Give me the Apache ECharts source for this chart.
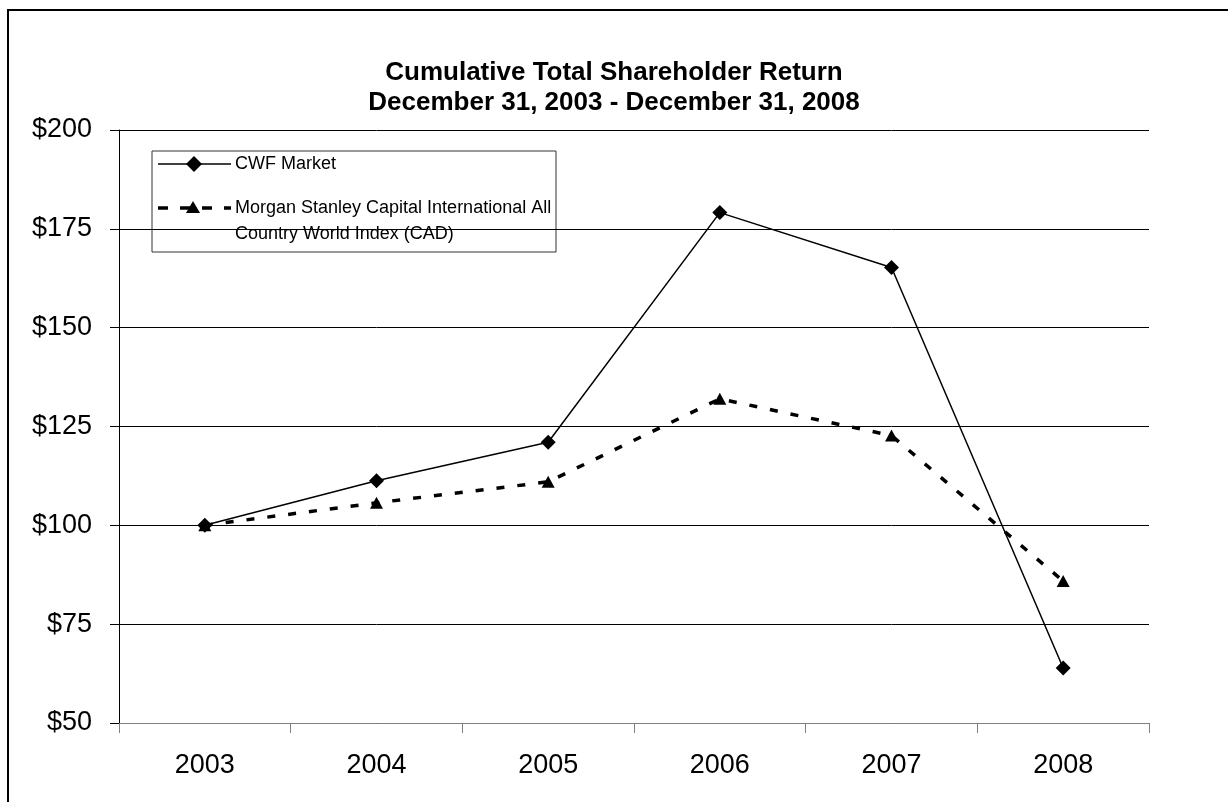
<!DOCTYPE html>
<html>
<head>
<meta charset="utf-8">
<title>Cumulative Total Shareholder Return</title>
<script src="https://cdn.jsdelivr.net/npm/echarts@6/dist/echarts.min.js"></script>
<style>
	html, body { margin: 0; padding: 0; background: #fff; }
	#main { width: 1228px; height: 802px; }
</style>
</head>
<body>
<div id="main"></div>
<script>
	// 数据
	var years = ['2003', '2004', '2005', '2006', '2007', '2008'];
	var cwfMarket = [100, 111.3, 121, 179.1, 165.2, 63.9];
	var msciAcwi = [100, 105.7, 111, 132, 122.7, 85.9];
	var yTicks = [50, 75, 100, 125, 150, 175, 200];

	var seriesNames = ['CWF Market', 'Morgan Stanley Capital International All\nCountry World Index (CAD)'];
	var titleLines = ['Cumulative Total Shareholder Return', 'December 31, 2003 - December 31, 2008'];

	var font = '"Liberation Sans", Arial, sans-serif';
	var diamond = 'path://M0,-1L1,0L0,1L-1,0Z';

	var chart = echarts.init(document.getElementById('main'));

	//图例框（手工画，原图文字被边框截断）
	var legendX = 152, legendY = 151, legendW = 404, legendH = 101;

	var option = {
		backgroundColor: '#fff',
		animation: false,
		title: {
			text: titleLines.join('\n'),
			left: 'center',
			top: 53,
			textStyle: {
				fontFamily: font,
				fontSize: 26,
				fontWeight: 'bold',
				color: '#000',
				lineHeight: 30
			}
		},
		grid: {
			left: 119,
			right: 79,
			top: 130,
			bottom: 79
		},
		xAxis: {
			type: 'category',
			data: years,
			boundaryGap: true,
			axisLine: { lineStyle: { color: '#808080', width: 1 } },
			axisTick: { show: true, length: 10, lineStyle: { color: '#808080' } },
			axisLabel: { margin: 29, fontFamily: font, fontSize: 27, color: '#000' },
			splitLine: { show: false }
		},
		yAxis: {
			type: 'value',
			min: yTicks[0],
			max: yTicks[yTicks.length - 1],
			interval: 25,
			axisLine: { show: true, lineStyle: { color: '#000', width: 1 } },
			axisTick: { show: true, length: 9, lineStyle: { color: '#000' } },
			axisLabel: {
				margin: 27,
				fontFamily: font,
				fontSize: 27,
				color: '#000',
				formatter: function(v) {
					return '$' + v;
				}
			},
			splitLine: { show: true, lineStyle: { color: '#000', width: 1 } }
		},
		series: [{
			name: seriesNames[0],
			type: 'line',
			data: cwfMarket,
			symbol: diamond,
			symbolSize: 15,
			itemStyle: { color: '#000' },
			lineStyle: { color: '#000', width: 1.5 },
			z: 3
		}, {
			name: seriesNames[1],
			type: 'line',
			data: msciAcwi,
			symbol: 'triangle',
			symbolSize: [13, 12],
			itemStyle: { color: '#000' },
			lineStyle: { color: '#000', width: 3.5, type: [8, 13] },
			z: 2
		}],
		graphic: [{
			// 外框
			type: 'rect',
			shape: { x: 8, y: 10, width: 1400, height: 1000 },
			style: { fill: 'none', stroke: '#000', lineWidth: 2 },
			silent: true
		}, {
			type: 'group',
			x: legendX,
			y: legendY,
			children: [{
				type: 'rect',
				shape: { x: 0, y: 0, width: legendW, height: legendH },
				style: { fill: '#fff', stroke: '#333', lineWidth: 1 }
			}, {
				type: 'line',
				shape: { x1: 6, y1: 13, x2: 79, y2: 13 },
				style: { stroke: '#000', lineWidth: 1.5 }
			}, {
				type: 'polygon',
				shape: { points: [[42, 5], [50, 13], [42, 21], [34, 13]] },
				style: { fill: '#000' }
			}, {
				type: 'text',
				x: 83,
				y: 13,
				style: {
					text: seriesNames[0],
					fontFamily: font,
					fontSize: 18,
					fill: '#000',
					verticalAlign: 'middle'
				}
			}, {
				type: 'line',
				shape: { x1: 6, y1: 57, x2: 79, y2: 57 },
				style: { stroke: '#000', lineWidth: 3.5, lineDash: [10, 12] }
			}, {
				type: 'polygon',
				shape: { points: [[41, 50], [48, 62], [34, 62]] },
				style: { fill: '#000' }
			}, {
				type: 'text',
				x: 83,
				y: 44,
				style: {
					text: seriesNames[1],
					fontFamily: font,
					fontSize: 18,
					lineHeight: 26,
					fill: '#000',
					width: legendW - 85,
					overflow: 'truncate',
					ellipsis: ''
				}
			}]
		}]
	};

	chart.setOption(option);
</script>
</body>
</html>
